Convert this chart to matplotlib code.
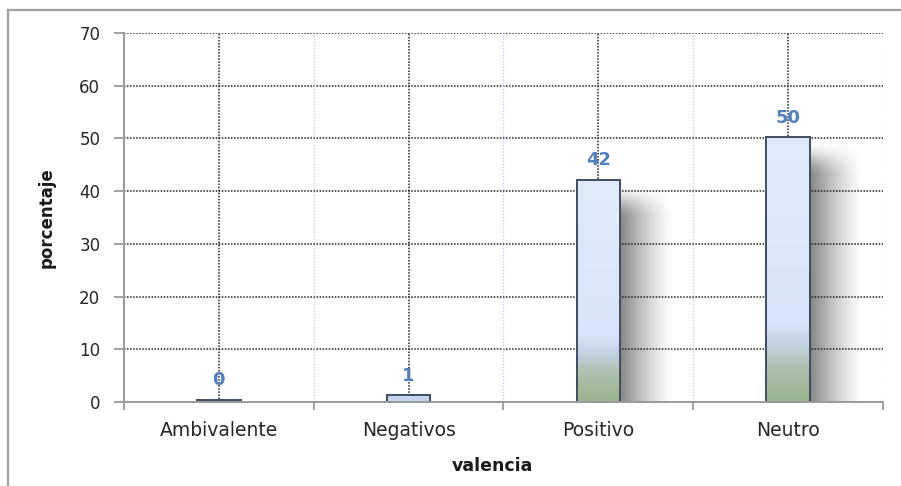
import numpy as np
import matplotlib.pyplot as plt
from matplotlib.colors import LinearSegmentedColormap
from matplotlib.patches import Rectangle

# data
categorias = ['Ambivalente', 'Negativos', 'Positivo', 'Neutro']
porcentaje = [0.4, 1.3, 42.2, 50.2]
etiquetas = ['0', '1', '42', '50']
y_ticks = [0, 10, 20, 30, 40, 50, 60, 70]

fig = plt.figure(figsize=(9.01, 4.86), dpi=100)
ax = fig.add_axes([0.1376, 0.1728, 0.8424, 0.7593])

x = np.arange(len(categorias))
ancho = 0.23
ax.set_xlim(-0.5, len(categorias) - 0.5)
ax.set_ylim(0, 70)

# grid: black dotted horizontals, black dotted verticals at centres,
# pale blue dotted verticals at category boundaries
for v in y_ticks[1:]:
    ax.axhline(v, color='#222222', lw=1.1, ls=(0, (1, 1)), zorder=1)
for xi in x:
    ax.axvline(xi, color='#222222', lw=1.1, ls=(0, (1, 1)), zorder=1)
for xb in x[1:] - 0.5:
    ax.axvline(xb, color='#b9cdf0', lw=0.9, ls=(0, (1, 1.5)), zorder=1)
ax.axvline(len(categorias) - 0.5, color='#b9cdf0', lw=0.9, ls=(0, (1, 1.5)), zorder=1)

# soft shadow to the right of every bar
sx = np.linspace(0, 1, 120)
sy = np.linspace(0, 1, 300)
SX, SY = np.meshgrid(sx, sy)
for xi, val in zip(x, porcentaje):
    if val < 3:
        continue
    x0 = xi + ancho / 2
    x1 = x0 + 0.28
    top = val - 0.5
    y = top * (1 - SY)  # origin upper: first row is the top
    falloff = (1 - SX) ** 1.3
    t = np.clip((top - y) / 7.0, 0, 1)
    vert = t * t * (3 - 2 * t)
    alpha = 0.48 * falloff * vert
    img = np.zeros((300, 120, 4))
    img[..., 3] = alpha
    ax.imshow(img, extent=[x0, x1, 0, top], origin='upper',
              aspect='auto', interpolation='bilinear', zorder=0.5)

# gradient fill for bars (green at the bottom, pale blue above)
cmap = LinearSegmentedColormap.from_list(
    'barra', [(0.0, '#9bb48f'), (0.12, '#abc0ab'), (0.22, '#c3d3e4'),
              (0.3, '#d8e4fb'), (1.0, '#e2ebfc')])
grad = np.linspace(1, 0, 400).reshape(-1, 1)
for xi, val, lab in zip(x, porcentaje, etiquetas):
    x0 = xi - ancho / 2
    face = '#c6d5ee' if val < 3 else 'none'
    rect = Rectangle((x0, 0), ancho, val, facecolor=face,
                     edgecolor='#3d4e63', lw=1.4, zorder=4)
    ax.add_patch(rect)
    if val >= 3:
        im = ax.imshow(grad, cmap=cmap, extent=[x0, x0 + ancho, 0, val],
                       aspect='auto', vmin=0, vmax=1, zorder=3)
        im.set_clip_path(rect)
    ax.text(xi, val + 2.0, lab, ha='center', va='bottom', fontsize=13,
            fontweight='bold', color='#4f7fc0', zorder=5)

ax.set_xlim(-0.5, len(categorias) - 0.5)
ax.set_ylim(0, 70)

ax.set_xticks(x)
ax.set_xticklabels(categorias)
ax.set_xticks(np.arange(-0.5, len(categorias)), minor=True)
ax.tick_params(axis='x', which='major', length=0, pad=14, labelsize=13.5,
               labelcolor='#262626')
ax.tick_params(axis='x', which='minor', length=6, width=1.3, color='#9a9a9a',
               direction='out')
ax.set_yticks(y_ticks)
ax.tick_params(axis='y', length=7, width=1.3, color='#9a9a9a', pad=10,
               labelsize=12, labelcolor='#262626')

for s in ['top', 'right']:
    ax.spines[s].set_visible(False)
for s in ['left', 'bottom']:
    ax.spines[s].set_color('#9a9a9a')
    ax.spines[s].set_linewidth(1.4)
    ax.spines[s].set_zorder(6)

ax.set_xlabel('valencia', fontsize=12.5, fontweight='bold', color='#1a1a1a')
ax.xaxis.set_label_coords(0.485, -0.15)
ax.set_ylabel('porcentaje', fontsize=12, fontweight='bold', color='#1a1a1a')
ax.yaxis.set_label_coords(-0.09, 0.5)

# outer chart frame (left and top edges visible in the image)
fig.add_artist(plt.Line2D([8 / 901, 8 / 901], [0, 1 - 10 / 486],
                          color='#a0a0a0', lw=1.6, transform=fig.transFigure))
fig.add_artist(plt.Line2D([8 / 901, 1], [1 - 10 / 486, 1 - 10 / 486],
                          color='#a0a0a0', lw=1.6, transform=fig.transFigure))

fig.savefig('out.png', dpi=100)
